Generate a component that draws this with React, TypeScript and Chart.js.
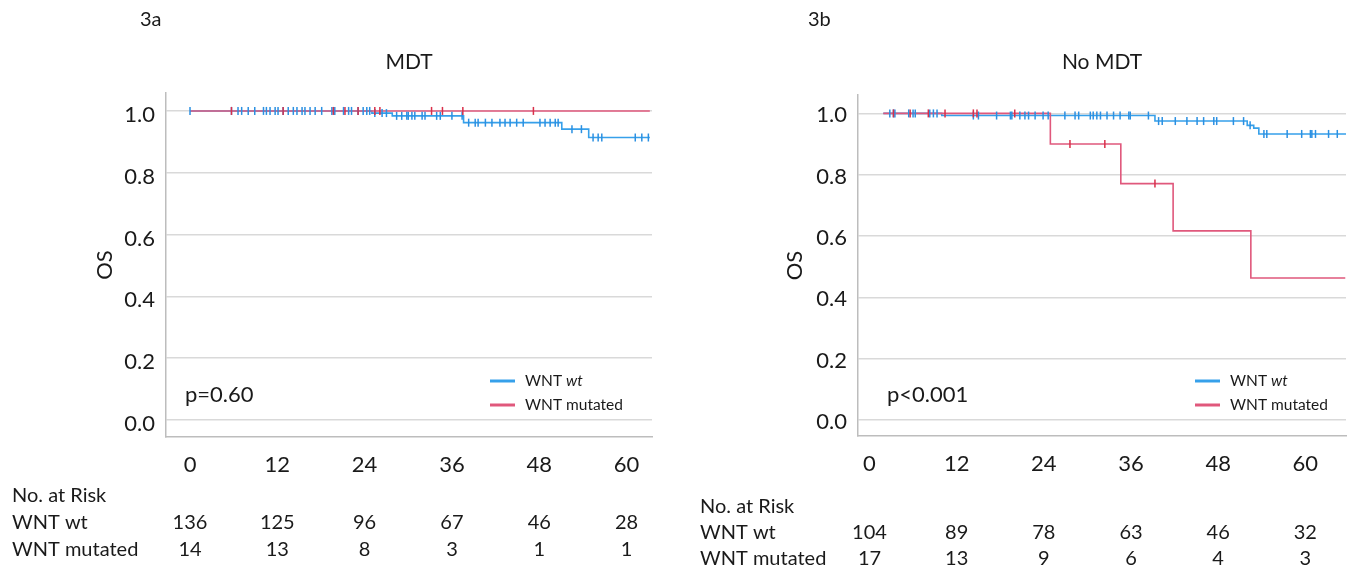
import React, { useEffect, useRef } from "react";
import { Chart, registerables } from "chart.js";

Chart.register(...registerables);

const FONT = "Lato, 'Open Sans', sans-serif";
const BLUE = "#36a0ea";
const BLUE_MARK = "#2b90e2";
const RED = "#e0587c";
const RED_MARK = "#d9304a";

// ---- Data ----
const xTicks = [0, 12, 24, 36, 48, 60];

// Panel 3a: MDT
const mdtWtTime = [0, 25.0, 27.8, 37.6, 51.1, 54.8, 63.2];
const mdtWtSurv = [1, 0.993, 0.984, 0.962, 0.941, 0.914, 0.914];
const mdtWtCensor = [
  0, 5.7, 6.6, 7.1, 8.0, 8.9, 10.1, 10.5, 11.0, 11.7, 12.1, 12.8, 13.5, 14.2, 14.7, 15.4, 15.8, 16.5,
  17.2, 18.1, 19.5, 19.9, 21.1, 21.8, 22.2, 23.1, 23.8, 24.3, 24.7, 25.4, 26.4, 27.0, 28.4, 29.1,
  29.8, 30.0, 30.5, 30.9, 31.9, 32.3, 33.9, 34.4, 36.0, 37.4, 38.3, 39.2, 39.6, 40.6, 41.5, 42.6,
  43.3, 44.0, 44.9, 45.8, 48.1, 48.8, 49.5, 50.2, 50.6, 52.5, 53.8, 55.4, 56.1, 56.6, 61.2, 62.1, 63.0,
];
const mdtMutTime = [0, 63.2];
const mdtMutSurv = [1, 1];
const mdtMutCensor = [5.7, 12.8, 19.7, 21.3, 23.1, 25.4, 26.1, 33.2, 34.7, 37.5, 47.2];
const mdtRiskWt = [136, 125, 96, 67, 46, 28];
const mdtRiskMut = [14, 13, 8, 3, 1, 1];

// Panel 3b: No MDT
const noMdtWtTime = [1.9, 9.95, 39.3, 52.0, 52.9, 53.6, 65.7];
const noMdtWtSurv = [1, 0.993, 0.975, 0.961, 0.952, 0.933, 0.933];
const noMdtWtCensor = [
  2.8, 3.3, 3.5, 5.4, 6.0, 6.3, 8.3, 8.8, 9.3, 14.3, 15.0, 17.5, 19.4, 19.6, 20.7, 21.4, 21.9, 22.8,
  23.9, 24.6, 26.9, 28.3, 28.8, 30.4, 30.8, 31.3, 31.8, 32.7, 33.6, 34.5, 35.7, 35.9, 38.4, 39.8,
  40.3, 42.1, 43.7, 45.1, 46.0, 47.4, 47.8, 50.1, 51.5, 52.4, 54.3, 54.7, 57.5, 59.5, 60.7, 60.9,
  61.4, 63.2, 64.4,
];
const noMdtMutTime = [1.9, 24.9, 34.6, 41.8, 52.5, 65.5];
const noMdtMutSurv = [1, 0.9, 0.771, 0.617, 0.463, 0.463];
const noMdtMutCensor = [3.3, 5.6, 8.1, 10.4, 14.3, 14.8, 20.0, 27.6, 32.4, 39.3];
const noMdtRiskWt = [104, 89, 78, 63, 46, 32];
const noMdtRiskMut = [17, 13, 9, 6, 4, 3];

function stepAt(times: number[], surv: number[], t: number) {
  let s = surv[0];
  for (let i = 0; i < times.length; i++) if (times[i] <= t) s = surv[i];
  return s;
}

type Panel = {
  label: string;
  title: string;
  pText: string;
  wtTime: number[];
  wtSurv: number[];
  wtCensor: number[];
  mutTime: number[];
  mutSurv: number[];
  mutCensor: number[];
  riskWt: number[];
  riskMut: number[];
  canvasLeft: number;
  canvasWidth: number;
  padLeft: number;
  yWidth: number;
  padRight: number;
  padTop: number;
  bottom: number;
  xMin: number;
  xMax: number;
  yMin: number;
  yMax: number;
  yLabelOffset: number;
  labelX: number;
  riskTextX: number;
  riskY: number[];
  legendX: number;
  pX: number;
};

const panels: Panel[] = [
  {
    label: "3a",
    title: "MDT",
    pText: "p=0.60",
    wtTime: mdtWtTime,
    wtSurv: mdtWtSurv,
    wtCensor: mdtWtCensor,
    mutTime: mdtMutTime,
    mutSurv: mdtMutSurv,
    mutCensor: mdtMutCensor,
    riskWt: mdtRiskWt,
    riskMut: mdtRiskMut,
    canvasLeft: 0,
    canvasWidth: 676,
    padLeft: 92,
    yWidth: 74,
    padRight: 24,
    padTop: 93,
    bottom: 437,
    xMin: -3.3,
    xMax: 63.5,
    yMin: -0.055,
    yMax: 1.058,
    yLabelOffset: 4,
    labelX: 140,
    riskTextX: 12,
    riskY: [496, 523, 550],
    legendX: 490,
    pX: 185,
  },
  {
    label: "3b",
    title: "No MDT",
    pText: "p<0.001",
    wtTime: noMdtWtTime,
    wtSurv: noMdtWtSurv,
    wtCensor: noMdtWtCensor,
    mutTime: noMdtMutTime,
    mutSurv: noMdtMutSurv,
    mutCensor: noMdtMutCensor,
    riskWt: noMdtRiskWt,
    riskMut: noMdtRiskMut,
    canvasLeft: 676,
    canvasWidth: 677,
    padLeft: 106,
    yWidth: 76,
    padRight: 7,
    padTop: 95,
    bottom: 436,
    xMin: -1.58,
    xMax: 65.6,
    yMin: -0.052,
    yMax: 1.06,
    yLabelOffset: 2,
    labelX: 132,
    riskTextX: 24,
    riskY: [507, 533, 559],
    legendX: 519,
    pX: 211,
  },
];

const H = 572;
const X_AXIS_H = 40;

function makeChart(canvas: HTMLCanvasElement, p: Panel) {
  const decor = {
    id: "decor",
    afterDraw(chart: any) {
      const ctx = chart.ctx as CanvasRenderingContext2D;
      const area = chart.chartArea;
      const xs = chart.scales.x;
      ctx.save();
      ctx.fillStyle = "#1a1a1a";
      ctx.textBaseline = "middle";
      ctx.font = `20px ${FONT}`;
      ctx.textAlign = "left";
      ctx.fillText(p.label, p.labelX, 20);
      ctx.font = `21px ${FONT}`;
      ctx.textAlign = "center";
      ctx.fillText(p.title, (area.left + area.right) / 2, 62);
      ctx.textAlign = "left";
      ctx.font = `22px ${FONT}`;
      ctx.fillText(p.pText, p.pX, 395);
      const items = [
        { color: BLUE, y: 381, main: "WNT ", it: "wt" },
        { color: RED, y: 405, main: "WNT mutated", it: "" },
      ];
      for (const it of items) {
        ctx.strokeStyle = it.color;
        ctx.lineWidth = 3;
        ctx.beginPath();
        ctx.moveTo(p.legendX, it.y);
        ctx.lineTo(p.legendX + 25, it.y);
        ctx.stroke();
        ctx.font = `15.5px ${FONT}`;
        ctx.fillText(it.main, p.legendX + 35, it.y);
        if (it.it) {
          const w = ctx.measureText(it.main).width;
          ctx.font = `italic 15.5px ${FONT}`;
          ctx.fillText(it.it, p.legendX + 35 + w, it.y);
        }
      }
      ctx.font = `20px ${FONT}`;
      ctx.textAlign = "left";
      ctx.fillText("No. at Risk", p.riskTextX, p.riskY[0]);
      ctx.fillText("WNT wt", p.riskTextX, p.riskY[1]);
      ctx.fillText("WNT mutated", p.riskTextX, p.riskY[2]);
      ctx.textAlign = "center";
      xTicks.forEach((t, i) => {
        const px = xs.getPixelForValue(t);
        ctx.fillText(String(p.riskWt[i]), px, p.riskY[1]);
        ctx.fillText(String(p.riskMut[i]), px, p.riskY[2]);
      });
      ctx.restore();
    },
  };

  const pts = (times: number[], surv: number[]) => times.map((t, i) => ({ x: t, y: surv[i] }));
  const cens = (c: number[], times: number[], surv: number[]) =>
    c.map((t) => ({ x: t, y: stepAt(times, surv, t) }));

  return new Chart(canvas, {
    type: "line",
    data: {
      datasets: [
        {
          label: "mut censor",
          data: cens(p.mutCensor, p.mutTime, p.mutSurv),
          showLine: false,
          pointStyle: "line",
          rotation: 90,
          pointRadius: 4,
          pointBorderWidth: 1.5,
          pointBorderColor: RED_MARK,
          pointBackgroundColor: RED_MARK,
        } as any,
        {
          label: "wt censor",
          data: cens(p.wtCensor, p.wtTime, p.wtSurv),
          showLine: false,
          pointStyle: "line",
          rotation: 90,
          pointRadius: 4,
          pointBorderWidth: 1.5,
          pointBorderColor: BLUE_MARK,
          pointBackgroundColor: BLUE_MARK,
        } as any,
        {
          label: "WNT mutated",
          data: pts(p.mutTime, p.mutSurv),
          stepped: true,
          borderColor: RED,
          borderWidth: 1.6,
          pointRadius: 0,
          fill: false,
        },
        {
          label: "WNT wt",
          data: pts(p.wtTime, p.wtSurv),
          stepped: true,
          borderColor: BLUE,
          borderWidth: 1.6,
          pointRadius: 0,
          fill: false,
        },
      ],
    },
    options: {
      responsive: false,
      animation: false,
      devicePixelRatio: 1,
      layout: {
        padding: {
          left: p.padLeft,
          right: p.padRight,
          top: p.padTop,
          bottom: H - p.bottom - X_AXIS_H,
        },
      },
      plugins: {
        legend: { display: false },
        tooltip: { enabled: false },
        title: { display: false },
      },
      scales: {
        x: {
          type: "linear",
          min: p.xMin,
          max: p.xMax,
          afterFit: (s: any) => {
            s.height = X_AXIS_H;
          },
          ticks: {
            stepSize: 12,
            includeBounds: false,
            font: { family: FONT, size: 22 },
            color: "#1a1a1a",
            padding: 15,
            maxRotation: 0,
          },
          grid: { display: false, drawTicks: false },
          border: { display: true, color: "#bdbdbd", width: 1.5 },
        },
        y: {
          type: "linear",
          min: p.yMin,
          max: p.yMax,
          afterFit: (s: any) => {
            s.width = p.yWidth;
          },
          ticks: {
            stepSize: 0.2,
            includeBounds: false,
            font: { family: FONT, size: 22 },
            color: "#1a1a1a",
            padding: 11,
            labelOffset: p.yLabelOffset,
            callback: (v: any) => Number(v).toFixed(1),
          },
          grid: { color: "#d9d9d9", lineWidth: 1.5, drawTicks: false },
          border: { display: true, color: "#bdbdbd", width: 1.5 },
          title: {
            display: true,
            text: "OS",
            font: { family: FONT, size: 22 },
            color: "#1a1a1a",
            padding: 0,
          },
        },
      },
    },
    plugins: [decor],
  } as any);
}

function PanelChart({ p }: { p: Panel }) {
  const ref = useRef<HTMLCanvasElement | null>(null);
  useEffect(() => {
    if (!ref.current) return;
    const chart = makeChart(ref.current, p);
    return () => chart.destroy();
  }, [p]);
  return (
    <canvas
      ref={ref}
      width={p.canvasWidth}
      height={H}
      style={{ position: "absolute", left: p.canvasLeft, top: 0, width: p.canvasWidth, height: H }}
    />
  );
}

export default function App() {
  return (
    <div
      style={{
        position: "absolute",
        left: 0,
        top: 0,
        width: 1353,
        height: H,
        background: "#ffffff",
        overflow: "hidden",
      }}
    >
      {panels.map((p) => (
        <PanelChart key={p.label} p={p} />
      ))}
    </div>
  );
}
